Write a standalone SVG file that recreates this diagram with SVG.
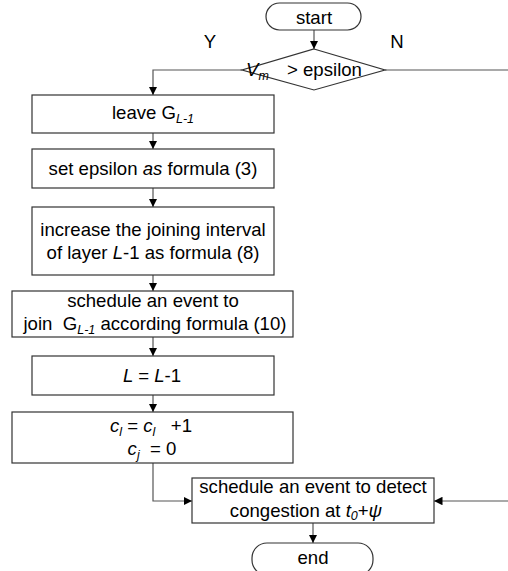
<svg xmlns="http://www.w3.org/2000/svg" width="508" height="571" viewBox="0 0 508 571">
<style>
.bx{fill:#fff;stroke:#333;stroke-width:1.2}
.ln{fill:none;stroke:#555;stroke-width:1.2}
text{font-family:"Liberation Sans",Arial,sans-serif;font-size:18.6px;fill:#000}
.c{text-anchor:middle}
.i{font-style:italic}
.s{font-size:12.5px}
.p{white-space:pre}
</style>
<defs>
<marker id="ar" viewBox="0 0 10 10" refX="10" refY="5" markerWidth="8.5" markerHeight="8.5" markerUnits="userSpaceOnUse" orient="auto">
<path d="M0,0 L10,5 L0,10 Z" fill="#000"/>
</marker>
</defs>
<rect width="508" height="571" fill="#fff"/>
<g id="connectors">
<line class="ln" x1="314" y1="30" x2="314" y2="49" marker-end="url(#ar)"/>
<polyline class="ln" points="242,70 153,70 153,95" marker-end="url(#ar)"/>
<line class="ln" x1="385" y1="70" x2="508" y2="70"/>
<line class="ln" x1="153" y1="133" x2="153" y2="149" marker-end="url(#ar)"/>
<line class="ln" x1="153" y1="188" x2="153" y2="207" marker-end="url(#ar)"/>
<line class="ln" x1="153" y1="275" x2="153" y2="291" marker-end="url(#ar)"/>
<line class="ln" x1="153" y1="337" x2="153" y2="356" marker-end="url(#ar)"/>
<line class="ln" x1="153" y1="395" x2="153" y2="412" marker-end="url(#ar)"/>
<polyline class="ln" points="153,463 153,501 192,501" marker-end="url(#ar)"/>
<line class="ln" x1="508" y1="501" x2="434" y2="501" marker-end="url(#ar)"/>
<line class="ln" x1="313" y1="523" x2="313" y2="543" marker-end="url(#ar)"/>
<text x="210" y="48" class="c">Y</text>
<text x="397" y="48" class="c">N</text>
</g>
<g id="start">
<rect class="bx" x="266" y="3" width="95" height="27" rx="13.5"/>
<text x="314" y="24" class="c">start</text>
</g>
<g id="decision">
<polygon class="bx" points="314,49 385,70 314,90 242,70"/>
<text x="246" y="76"><tspan class="i">V</tspan><tspan class="i s" dy="4">m</tspan><tspan x="287" y="76">&gt; epsilon</tspan></text>
</g>
<g id="leave">
<rect class="bx" x="32" y="95" width="242" height="38"/>
<text x="153" y="119" class="c">leave G<tspan class="i s" dy="4">L-1</tspan></text>
</g>
<g id="setEpsilon">
<rect class="bx" x="32" y="149" width="242" height="39"/>
<text x="153" y="175" class="c">set epsilon <tspan class="i">as</tspan> formula (3)</text>
</g>
<g id="increase">
<rect class="bx" x="32" y="207" width="242" height="68"/>
<text x="153" y="236" class="c">increase the joining interval</text>
<text x="153" y="259" class="c">of layer <tspan class="i">L</tspan>-1 as formula (8)</text>
</g>
<g id="scheduleJoin">
<rect class="bx" x="12" y="291" width="281" height="46"/>
<text x="153" y="307" class="c">schedule an event to</text>
<text x="155" y="330" class="c p">join  G<tspan class="i s" dy="4">L-1</tspan><tspan dy="-4"> according formula (10)</tspan></text>
</g>
<g id="decL">
<rect class="bx" x="32" y="356" width="242" height="39"/>
<text x="152" y="382" class="c i">L <tspan font-style="normal">=</tspan> L<tspan font-style="normal">-1</tspan></text>
</g>
<g id="counters">
<rect class="bx" x="12" y="412" width="281" height="51"/>
<text x="151" y="432" class="c p"><tspan class="i">c</tspan><tspan class="i s" dy="4">l</tspan><tspan dy="-4"> = </tspan><tspan class="i">c</tspan><tspan class="i s" dy="4">l</tspan><tspan dy="-4">   +1</tspan></text>
<text x="152" y="455" class="c p"><tspan class="i">c</tspan><tspan class="i s" dy="4">j</tspan><tspan dy="-4">  = 0</tspan></text>
</g>
<g id="detect">
<rect class="bx" x="192" y="478" width="242" height="45"/>
<text x="313" y="493" class="c">schedule an event to detect</text>
<text x="306" y="517" class="c">congestion at <tspan class="i">t</tspan><tspan class="i s" dy="3">0</tspan><tspan dy="-3">+</tspan><tspan class="i">ψ</tspan></text>
</g>
<g id="end">
<rect class="bx" x="252" y="543" width="121" height="32" rx="15"/>
<text x="313" y="564" class="c">end</text>
</g>
</svg>
